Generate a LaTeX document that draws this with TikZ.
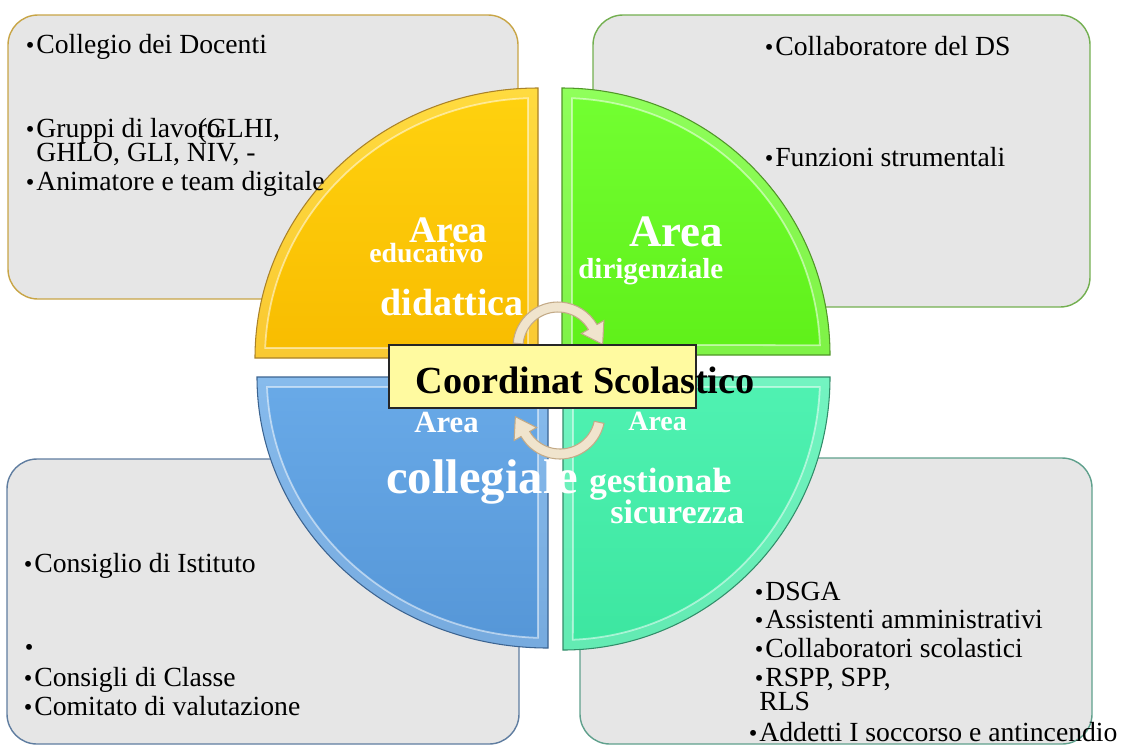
\documentclass[tikz,border=0pt]{standalone}
\usepackage{fontspec}
\setmainfont{Liberation Serif}
\usetikzlibrary{calc}
\definecolor{boxgray}{RGB}{230,230,230}
\definecolor{tlline}{RGB}{200,165,70}
\definecolor{trline}{RGB}{115,175,80}
\definecolor{blline}{RGB}{95,125,160}
\definecolor{brline}{RGB}{95,160,140}
\definecolor{yelA}{RGB}{255,210,15}
\definecolor{yelB}{RGB}{248,188,0}
\definecolor{yelE}{RGB}{170,130,40}
\definecolor{grnA}{RGB}{115,255,50}
\definecolor{grnB}{RGB}{95,240,25}
\definecolor{grnE}{RGB}{80,150,40}
\definecolor{bluA}{RGB}{105,170,232}
\definecolor{bluB}{RGB}{85,150,215}
\definecolor{bluE}{RGB}{60,100,145}
\definecolor{tqA}{RGB}{80,242,178}
\definecolor{tqB}{RGB}{60,230,160}
\definecolor{tqE}{RGB}{50,140,105}
\definecolor{coordfill}{RGB}{255,250,160}
\definecolor{arrfill}{RGB}{240,228,205}
\definecolor{arredge}{RGB}{195,170,135}
\newcommand{\fsz}[1]{\fontsize{#1}{#1}\selectfont}
\newcommand{\bul}{\llap{{\fsz{14}\textbullet}\hspace{1pt}}}

\begin{document}
\begin{tikzpicture}[x=0.02cm,y=-0.02cm,
  panel/.style={fill=boxgray,line width=0.8pt,rounded corners=0.6cm},
  rim/.style={draw=white,draw opacity=0.2,line width=0.4cm},
  bevel/.style={draw=white,draw opacity=0.5,line width=1pt},
  item/.style={anchor=base west,inner sep=0pt,font=\fsz{15.75}},
  area/.style={anchor=base west,inner sep=0pt,text=white},
  arrowband/.style={fill=arrfill,draw=arredge,line width=0.6pt}]

\useasboundingbox (0,0) rectangle (1125,745);

\draw[panel,draw=tlline] (8,15) rectangle (518,299);
\draw[panel,draw=trline] (593,15) rectangle (1090,307);
\draw[panel,draw=blline] (7,459) rectangle (519,744);
\draw[panel,draw=brline] (580,458) rectangle (1092,744);

\shade[top color=yelA,bottom color=yelB] (538,358) -- (255,358) arc[start angle=180,end angle=270,x radius=283,y radius=270] -- cycle;
\begin{scope}
\clip (538,358) -- (255,358) arc[start angle=180,end angle=270,x radius=283,y radius=270] -- cycle;
\draw[rim] (538,358) -- (255,358) arc[start angle=180,end angle=270,x radius=283,y radius=270] -- cycle;
\end{scope}
\draw[bevel] (528,348) -- (265.2,348) arc[start angle=182.2,end angle=267.9,x radius=273,y radius=260] -- cycle;
\draw[yelE,line width=0.6pt] (538,358) -- (255,358) arc[start angle=180,end angle=270,x radius=283,y radius=270] -- cycle;

\shade[top color=grnA,bottom color=grnB] (562,355) -- (562,88) arc[start angle=270,end angle=360,x radius=268,y radius=267] -- cycle;
\begin{scope}
\clip (562,355) -- (562,88) arc[start angle=270,end angle=360,x radius=268,y radius=267] -- cycle;
\draw[rim] (562,355) -- (562,88) arc[start angle=270,end angle=360,x radius=268,y radius=267] -- cycle;
\end{scope}
\draw[bevel] (572,345) -- (572,98.2) arc[start angle=272.2,end angle=357.8,x radius=258,y radius=257] -- cycle;
\draw[grnE,line width=0.6pt] (562,355) -- (562,88) arc[start angle=270,end angle=360,x radius=268,y radius=267] -- cycle;

\shade[top color=bluA,bottom color=bluB] (548,377) -- (548,648) arc[start angle=90,end angle=180,x radius=291,y radius=271] -- cycle;
\begin{scope}
\clip (548,377) -- (548,648) arc[start angle=90,end angle=180,x radius=291,y radius=271] -- cycle;
\draw[rim] (548,377) -- (548,648) arc[start angle=90,end angle=180,x radius=291,y radius=271] -- cycle;
\end{scope}
\draw[bevel] (538,387) -- (538,637.8) arc[start angle=92.0,end angle=177.8,x radius=281,y radius=261] -- cycle;
\draw[bluE,line width=0.6pt] (548,377) -- (548,648) arc[start angle=90,end angle=180,x radius=291,y radius=271] -- cycle;

\shade[top color=tqA,bottom color=tqB] (563,377) -- (830,377) arc[start angle=0,end angle=90,x radius=267,y radius=273] -- cycle;
\begin{scope}
\clip (563,377) -- (830,377) arc[start angle=0,end angle=90,x radius=267,y radius=273] -- cycle;
\draw[rim] (563,377) -- (830,377) arc[start angle=0,end angle=90,x radius=267,y radius=273] -- cycle;
\end{scope}
\draw[bevel] (573,387) -- (819.8,387) arc[start angle=2.2,end angle=87.8,x radius=257,y radius=263] -- cycle;
\draw[tqE,line width=0.6pt] (563,377) -- (830,377) arc[start angle=0,end angle=90,x radius=267,y radius=273] -- cycle;

\coordinate (ctop) at (558,347);
\coordinate (cbot) at (560,414);
\filldraw[arrowband] ($(ctop)+(185:45)$) arc[start angle=185,end angle=330,radius=45] -- ($(ctop)+(330:53)$) -- ($(ctop)+(330:40)+(60:20)$) -- ($(ctop)+(330:27)$) -- ($(ctop)+(330:35)$) arc[start angle=330,end angle=185,radius=35] -- cycle;
\filldraw[arrowband] ($(cbot)+(12:45)$) arc[start angle=12,end angle=150,radius=45] -- ($(cbot)+(150:53)$) -- ($(cbot)+(150:40)+(240:20)$) -- ($(cbot)+(150:27)$) -- ($(cbot)+(150:35)$) arc[start angle=150,end angle=12,radius=35] -- cycle;

\node[draw=black!85,fill=coordfill,line width=0.8pt,minimum width=6.14cm,minimum height=1.26cm,inner sep=0pt] (coordbox) at (542.5,376.5) {};

\node[area,font=\fsz{21.3}\bfseries] (areaEd) at (409,242) {Area};
\node[area,font=\fsz{15.8}\bfseries] (educ) at (369,262) {educativo};
\node[area,font=\fsz{21.6}\bfseries] (didat) at (380,315) {didattica};
\node[area,font=\fsz{25.6}\bfseries] (areaDir) at (629,246) {Area};
\node[area,font=\fsz{16.5}\bfseries] (dirig) at (578,278) {dirigenziale};
\node[area,font=\fsz{17.5}\bfseries] (areaCol) at (414,432) {Area};
\node[area,font=\fsz{27.7}\bfseries] (colleg) at (386,493) {collegiale};
\node[area,font=\fsz{15.9}\bfseries] (areaGes) at (628,430) {Area};
\node[area,font=\fsz{20}\bfseries] (gestio) at (589,492) {gestional\kern-.18em e};
\node[area,font=\fsz{19.4}\bfseries] (sicur) at (610,523) {sicurezza};

\node[anchor=base west,inner sep=0pt,font=\fsz{21.8}\bfseries] (coordtext) at (415,393) {Coordinat Scolastico};

\node[item] (tl1) at (36,53) {\bul Collegio dei Docenti};
\node[item] (tl2) at (36,137) {\bul Gruppi di lavo\rlap{ro}(GLHI,};
\node[item] (tl3) at (36,161) {GHLO, GLI, NIV, -};
\node[item] (tl4) at (36,190) {\bul Animatore e team digitale};

\node[item] (tr1) at (775,55) {\bul Collaboratore del DS};
\node[item] (tr2) at (775,166) {\bul Funzioni strumentali};

\node[item] (bl1) at (34,572) {\bul Consiglio di Istituto};
\node[item] (bl2) at (34,655) {\bul};
\node[item] (bl3) at (34,686) {\bul Consigli di Classe};
\node[item] (bl4) at (34,715) {\bul Comitato di valutazione};

\node[item] (br1) at (765,600) {\bul DSGA};
\node[item] (br2) at (765,628) {\bul Assistenti amministrativi};
\node[item] (br3) at (765,657) {\bul Collaboratori scolastici};
\node[item] (br4) at (765,686) {\bul RSPP, SPP,};
\node[item] (br5) at (759,710) {RLS};
\node[item] (br6) at (759,741) {\bul Addetti I soccorso e antincendio};
\end{tikzpicture}
\end{document}
